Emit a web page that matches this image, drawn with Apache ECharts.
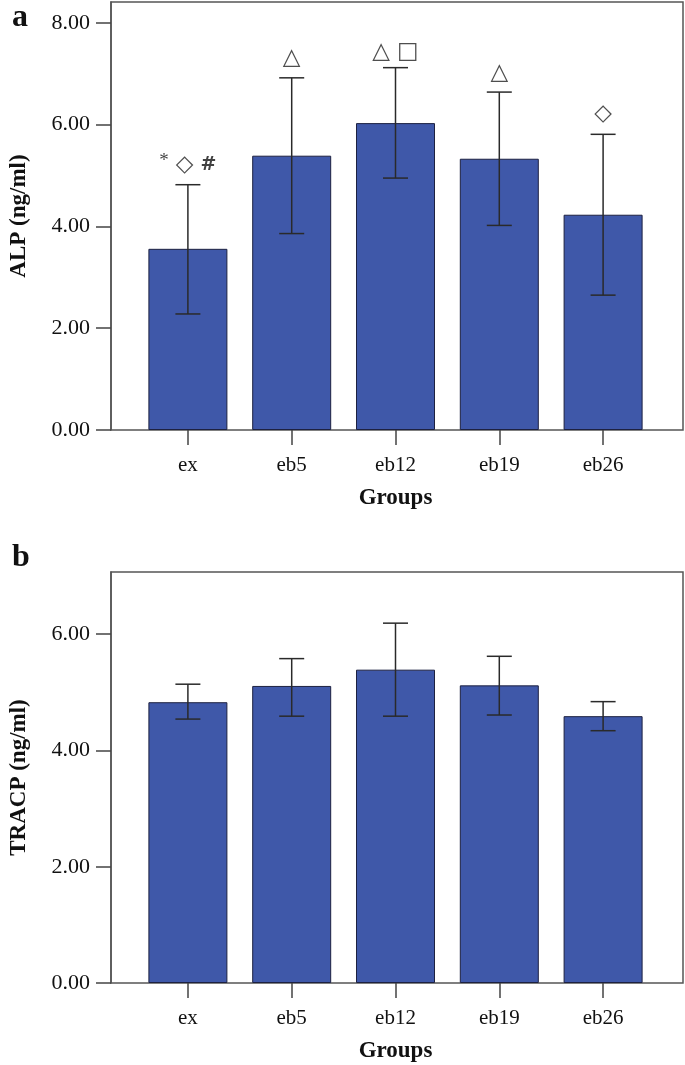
<!DOCTYPE html>
<html>
<head>
<meta charset="utf-8">
<script src="https://cdn.jsdelivr.net/npm/echarts@6/dist/echarts.min.js"></script>
<style>html,body{margin:0;padding:0;background:#fff}#c{width:685px;height:1065px}</style>
</head>
<body>
<div id="c"></div>
<script>
const categories = ['ex', 'eb5', 'eb12', 'eb19', 'eb26'];
const alpMean = [3.56, 5.39, 6.03, 5.33, 4.23];
const alpLow = [2.28, 3.86, 4.95, 4.02, 2.65];
const alpHigh = [4.82, 6.92, 7.12, 6.64, 5.81];
const alpMarks = ['{s|*} {d|◇} {h|#}', '{d|△}', '{d|△} {d|□}', '{d|△}', '{d|◇}'];
const alpMarkY = [5.2, 7.3, 7.43, 7.01, 6.2];
const alpTicks = [0, 2, 4, 6, 8];
const tracpMean = [4.83, 5.11, 5.39, 5.12, 4.59];
const tracpLow = [4.54, 4.59, 4.59, 4.61, 4.34];
const tracpHigh = [5.14, 5.58, 6.19, 5.62, 4.84];
const tracpTicks = [0, 2, 4, 6];

const FONT = 'Liberation Serif, Times New Roman, serif';
const chart = echarts.init(document.getElementById('c'), null, {renderer: 'canvas'});

function frameGrid(top, height) {
  return {left: 107, width: 576, top: top, height: height, show: true, borderColor: '#555', borderWidth: 1.5, backgroundColor: '#fff'};
}
function dataGrid(top, height) {
  return {left: 136, width: 519, top: top, height: height};
}
function yFrame(gi, max, ticks, name) {
  return {
    gridIndex: gi, type: 'value', min: 0, max: max,
    name: name, nameLocation: 'middle', nameGap: 80,
    nameTextStyle: {fontFamily: FONT, fontWeight: 'bold', fontSize: 23, color: '#111'},
    axisLine: {show: true, lineStyle: {color: '#555', width: 1.5}},
    axisTick: {show: true, length: 15, lineStyle: {color: '#444', width: 1.5}, customValues: ticks},
    axisLabel: {fontFamily: FONT, fontSize: 22, color: '#111', margin: 21, customValues: ticks,
      formatter: v => v.toFixed(2)},
    splitLine: {show: false}
  };
}
function yData(gi, max) {
  return {gridIndex: gi, type: 'value', min: 0, max: max, show: false, splitLine: {show: false}};
}
function xData(gi) {
  return {
    gridIndex: gi, type: 'category', data: categories,
    name: 'Groups', nameLocation: 'middle', nameGap: 57,
    nameTextStyle: {fontFamily: FONT, fontWeight: 'bold', fontSize: 23, color: '#111'},
    axisLine: {show: false},
    axisTick: {show: true, alignWithLabel: true, length: 15, lineStyle: {color: '#444', width: 1.5}},
    axisLabel: {fontFamily: FONT, fontSize: 21, color: '#111', margin: 25},
    splitLine: {show: false}
  };
}
function errRender(params, api) {
  const x = api.value(0);
  const lo = api.coord([x, api.value(1)]);
  const hi = api.coord([x, api.value(2)]);
  const hw = 12.5;
  const st = {stroke: '#2a2a2a', lineWidth: 1.5};
  return {type: 'group', children: [
    {type: 'line', shape: {x1: lo[0], y1: lo[1], x2: hi[0], y2: hi[1]}, style: st},
    {type: 'line', shape: {x1: hi[0] - hw, y1: hi[1], x2: hi[0] + hw, y2: hi[1]}, style: st},
    {type: 'line', shape: {x1: lo[0] - hw, y1: lo[1], x2: lo[0] + hw, y2: lo[1]}, style: st}
  ]};
}
const barStyle = {color: '#3f58a9', borderColor: '#1d2140', borderWidth: 1};
const hiddenX = gi => ({gridIndex: gi, type: 'value', show: false, splitLine: {show: false}});

chart.setOption({
  animation: false,
  title: [
    {text: 'a', left: 7, top: -3, textStyle: {fontFamily: FONT, fontWeight: 'bold', fontSize: 32, color: '#111'}},
    {text: 'b', left: 7, top: 537, textStyle: {fontFamily: FONT, fontWeight: 'bold', fontSize: 32, color: '#111'}}
  ],
  grid: [frameGrid(2, 428), dataGrid(2, 428), frameGrid(572, 411), dataGrid(572, 411)],
  xAxis: [hiddenX(0), xData(1), hiddenX(2), xData(3)],
  yAxis: [yFrame(0, 8.41, alpTicks, 'ALP (ng/ml)'), yData(1, 8.41), yFrame(2, 7.07, tracpTicks, 'TRACP (ng/ml)'), yData(3, 7.07)],
  series: [
    {type: 'bar', xAxisIndex: 1, yAxisIndex: 1, data: alpMean, barWidth: 79, itemStyle: barStyle, z: 2},
    {type: 'custom', xAxisIndex: 1, yAxisIndex: 1, renderItem: errRender, z: 3,
      data: categories.map((c, i) => [i, alpLow[i], alpHigh[i]])},
    {type: 'scatter', xAxisIndex: 1, yAxisIndex: 1, symbol: 'circle', symbolSize: 2, z: 4,
      itemStyle: {color: 'rgba(255,255,255,0)'},
      data: categories.map((c, i) => ({value: [i, alpMarkY[i]], label: {formatter: alpMarks[i]}})),
      label: {show: true, position: 'inside', fontFamily: 'DejaVu Sans', fontSize: 22, color: '#222',
        rich: {
          d: {fontFamily: 'DejaVu Sans', fontSize: 23, color: '#222'},
          s: {fontFamily: FONT, fontSize: 19, color: '#111', padding: [0, 0, 8, 0]},
          h: {fontFamily: 'DejaVu Sans', fontSize: 19, fontWeight: 'bold', color: '#111'}
        }}},
    {type: 'bar', xAxisIndex: 3, yAxisIndex: 3, data: tracpMean, barWidth: 79, itemStyle: barStyle, z: 2},
    {type: 'custom', xAxisIndex: 3, yAxisIndex: 3, renderItem: errRender, z: 3,
      data: categories.map((c, i) => [i, tracpLow[i], tracpHigh[i]])}
  ]
});
</script>
</body>
</html>
